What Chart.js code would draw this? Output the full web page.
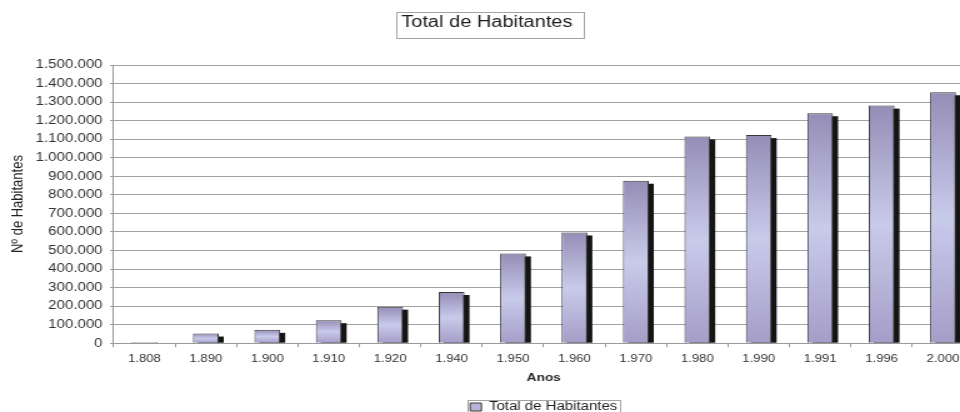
<!DOCTYPE html>
<html>
<head>
<meta charset="utf-8">
<script src="https://cdn.jsdelivr.net/npm/chart.js@4/dist/chart.umd.min.js"></script>
<style>
  html, body { margin: 0; padding: 0; background: #fff; overflow: hidden; width: 960px; height: 412px; }
  #wrap { width: 780px; height: 423px; transform: scaleX(1.25); transform-origin: 0 0; }
</style>
</head>
<body>
<div id="wrap"><canvas id="c" width="780" height="423"></canvas></div>
<script>
// Census years and population counts
const anos = ['1.808', '1.890', '1.900', '1.910', '1.920', '1.940', '1.950', '1.960', '1.970', '1.980', '1.990', '1.991', '1.996', '2.000'];
const habitantes = [7000, 52000, 72000, 124000, 197000, 276000, 484000, 597000, 876000, 1115000, 1122000, 1240000, 1281000, 1353000];
const yMin = 0;
const yMax = 1500000;
const yStep = 100000;

const FAMILY = "'Liberation Sans', Arial, sans-serif";
const NARROW = "'Liberation Sans Narrow', 'Arial Narrow', 'Liberation Sans', sans-serif";

// thousands separated by dots: 1500000 -> 1.500.000
function fmt(v) {
  return String(v).replace(/\B(?=(\d{3})+(?!\d))/g, '.');
}

// vertical gradient from the top of each bar to the baseline
function barFill(c) {
  const flat = '#b7b5da';
  const ys = c.chart.scales && c.chart.scales.y;
  if (c.type !== 'data' || !ys) return flat;
  const top = ys.getPixelForValue(c.raw);
  const bottom = ys.getPixelForValue(0);
  if (!(bottom - top > 2)) return flat;
  const g = c.chart.ctx.createLinearGradient(0, top, 0, bottom);
  g.addColorStop(0, '#958db6');
  g.addColorStop(0.5, '#c9cbeb');
  g.addColorStop(1, '#a59dc7');
  return g;
}

// dark drop shadow behind every bar
const barShadow = {
  id: 'barShadow',
  beforeDatasetsDraw(chart) {
    const ctx = chart.ctx;
    const meta = chart.getDatasetMeta(0);
    ctx.save();
    ctx.fillStyle = '#141414';
    meta.data.forEach(bar => {
      const p = bar.getProps(['x', 'y', 'base', 'width'], true);
      const h = p.base - p.y - 3;
      if (h > 0) ctx.fillRect(p.x - p.width / 2 + 4, p.y + 3, p.width, h);
    });
    ctx.restore();
  }
};

// thin frames around the title and the legend
const frames = {
  id: 'frames',
  afterDraw(chart) {
    const ctx = chart.ctx;
    ctx.save();
    ctx.strokeStyle = '#a4a4a4';
    ctx.lineWidth = 1;

    const tb = chart.titleBlock;
    const to = chart.options.plugins.title;
    ctx.font = to.font.size + 'px ' + FAMILY;
    const tw = ctx.measureText(to.text).width;
    const cx = (tb.left + tb.right) / 2;
    const cy = tb.top + to.padding.top + to.font.size * 1.2 / 2;
    ctx.strokeRect(Math.round(cx - tw / 2 - 4) + 0.5, Math.round(cy - 11) + 0.5, Math.round(tw + 13), 26);

    const hb = chart.legend.legendHitBoxes[0];
    if (hb) {
      ctx.strokeRect(Math.round(hb.left - 2.5) + 0.5, Math.round(hb.top - 1) + 0.5, Math.round(hb.width + 4), 30);
    }
    ctx.restore();
  }
};

new Chart(document.getElementById('c'), {
  type: 'bar',
  data: {
    labels: anos,
    datasets: [{
      label: 'Total de Habitantes',
      data: habitantes,
      backgroundColor: barFill,
      borderColor: '#383838',
      borderWidth: 1,
      categoryPercentage: 1,
      barPercentage: 0.42
    }]
  },
  options: {
    responsive: false,
    animation: false,
    devicePixelRatio: 1,
    layout: { padding: { left: 0, right: 1, top: 0, bottom: 0 } },
    plugins: {
      title: {
        display: true,
        text: 'Total de Habitantes',
        color: '#1c1c1c',
        font: { family: FAMILY, size: 16, weight: 'normal' },
        padding: { top: 13.4, bottom: 32.4 }
      },
      legend: {
        display: true,
        position: 'bottom',
        fullSize: false,
        labels: {
          color: '#1e1e1e',
          font: { family: FAMILY, size: 12 },
          boxWidth: 9,
          boxHeight: 8,
          padding: 4
        }
      },
      tooltip: { enabled: false }
    },
    scales: {
      x: {
        grid: { display: true, drawOnChartArea: false, drawTicks: true, tickLength: 4, color: '#9a9a9a' },
        border: { display: true, color: '#9a9a9a' },
        ticks: {
          color: '#333',
          font: { family: FAMILY, size: 10.5 },
          padding: 6,
          maxRotation: 0,
          autoSkip: false
        },
        title: {
          display: true,
          text: 'Anos',
          color: '#2a2a2a',
          font: { family: FAMILY, size: 11, weight: 'bold' },
          padding: { top: 0, bottom: 12 }
        }
      },
      y: {
        min: yMin,
        max: yMax,
        grid: { color: '#a2a2a2', lineWidth: 1, drawTicks: true, tickLength: 3 },
        border: { display: true, color: '#9a9a9a' },
        ticks: {
          stepSize: yStep,
          autoSkip: false,
          color: '#333',
          font: { family: FAMILY, size: 12 },
          padding: 6,
          callback: v => fmt(v)
        },
        title: {
          display: true,
          text: 'Nº de Habitantes',
          color: '#222',
          font: { family: NARROW, size: 13 },
          padding: { top: 7, bottom: 0 }
        }
      }
    }
  },
  plugins: [barShadow, frames]
});
</script>
</body>
</html>
